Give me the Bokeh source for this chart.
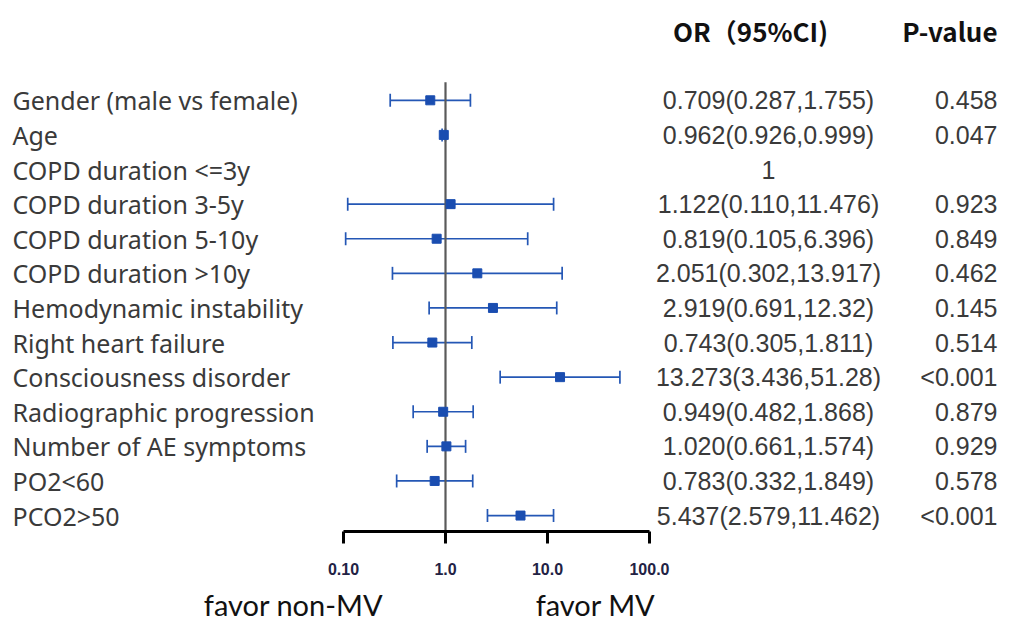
import math
from bokeh.plotting import figure
from bokeh.models import (Range1d, LogAxis, FixedTicker, ColumnDataSource, Whisker, TeeHead, LogScale)
from bokeh.core.properties import value
from bokeh.embed import file_html
from bokeh.resources import INLINE

labels = ["Gender (male vs female)", "Age", "COPD duration <=3y", "COPD duration 3-5y",
          "COPD duration 5-10y", "COPD duration >10y", "Hemodynamic instability",
          "Right heart failure", "Consciousness disorder", "Radiographic progression",
          "Number of AE symptoms", "PO2<60", "PCO2>50"]
or_vals = [0.709, 0.962, None, 1.122, 0.819, 2.051, 2.919, 0.743, 13.273, 0.949, 1.020, 0.783, 5.437]
ci_low = [0.287, 0.926, None, 0.110, 0.105, 0.302, 0.691, 0.305, 3.436, 0.482, 0.661, 0.332, 2.579]
ci_high = [1.755, 0.999, None, 11.476, 6.396, 13.917, 12.32, 1.811, 51.28, 1.868, 1.574, 1.849, 11.462]
or_text = ["0.709(0.287,1.755)", "0.962(0.926,0.999)", "1", "1.122(0.110,11.476)",
           "0.819(0.105,6.396)", "2.051(0.302,13.917)", "2.919(0.691,12.32)",
           "0.743(0.305,1.811)", "13.273(3.436,51.28)", "0.949(0.482,1.868)",
           "1.020(0.661,1.574)", "0.783(0.332,1.849)", "5.437(2.579,11.462)"]
p_text = ["0.458", "0.047", "", "0.923", "0.849", "0.462", "0.145", "0.514",
          "<0.001", "0.879", "0.929", "0.578", "<0.001"]
ticks = [0.1, 1, 10, 100]
tick_labels = ["0.10", "1.0", "10.0", "100.0"]
favor_labels = ["favor non-MV", "favor MV"]

# --- layout helpers (pixel geometry of the page) ---
W, H = 1000, 624
PX_DEC = 102.0          # pixels per decade
X01 = 343.0             # pixel of OR = 0.1
ROW0, ROWSTEP = 100.0, 34.67  # pixel of first row, row spacing
FRAME_BOTTOM = 532.0


def xpx(px):
    return 10 ** (-1 + (px - X01) / PX_DEC)


def ypx(py):
    return (py - ROW0) / ROWSTEP


p = figure(width=W, height=H, output_backend="svg", toolbar_location=None,
           x_axis_type=None, y_axis_type=None,
           x_range=Range1d(xpx(0), xpx(W)), y_range=Range1d(ypx(FRAME_BOTTOM), ypx(0)),
           min_border_left=0, min_border_right=0, min_border_top=0,
           min_border_bottom=int(H - FRAME_BOTTOM))
p.x_scale = LogScale()
p.outline_line_color = None
p.grid.visible = False
p.background_fill_color = "white"
p.border_fill_color = "white"

rows = list(range(len(labels)))
idx = [i for i in rows if or_vals[i] is not None]
src = ColumnDataSource(dict(y=idx, orv=[or_vals[i] for i in idx],
                            lo=[ci_low[i] for i in idx], hi=[ci_high[i] for i in idx]))

# reference line at OR = 1
p.segment(x0=[1], x1=[1], y0=[ypx(82)], y1=[ypx(FRAME_BOTTOM)], line_color="#5a5a5a", line_width=2.2)

blue = "#2457b5"
w = Whisker(source=src, base="y", lower="lo", upper="hi", dimension="width",
            line_color=blue, line_width=1.7,
            lower_head=TeeHead(size=13, line_color=blue, line_width=1.7),
            upper_head=TeeHead(size=13, line_color=blue, line_width=1.7))
p.add_layout(w)
p.scatter(x="orv", y="y", source=src, marker="square", size=9,
          fill_color="#1a4db0", line_color="#1a4db0")

txt_col = "#3a3a3a"
p.text(x=[xpx(12)] * len(rows), y=rows, text=labels, text_font=value("Noto Sans"),
       text_font_size="25px", text_color=txt_col, text_baseline="middle", text_align="left")
p.text(x=[xpx(768)] * len(rows), y=rows, text=or_text, text_font=value("Liberation Sans"),
       text_font_size="25px", text_color=txt_col, text_baseline="middle", text_align="center")
p.text(x=[xpx(997)] * len(rows), y=rows, text=p_text, text_font=value("Liberation Sans"),
       text_font_size="25px", text_color=txt_col, text_baseline="middle", text_align="right")

# headers
p.text(x=[xpx(750)], y=[ypx(30)], text=["OR（95%CI)"], text_font=value("Noto Sans CJK SC"),
       text_font_size="26px", text_font_style="bold", text_color="#111111",
       text_baseline="middle", text_align="center")
p.text(x=[xpx(997)], y=[ypx(30)], text=["P-value"], text_font=value("Noto Sans CJK SC"),
       text_font_size="26px", text_font_style="bold", text_color="#111111",
       text_baseline="middle", text_align="right")

# OR axis
ax = LogAxis(ticker=FixedTicker(ticks=ticks), bounds=(0.1, 100),
             major_label_overrides={t: l for t, l in zip(ticks, tick_labels)})
ax.axis_line_width = 3
ax.axis_line_color = "black"
ax.major_tick_line_width = 3
ax.major_tick_line_color = "black"
ax.major_tick_out = 12
ax.major_tick_in = 0
ax.minor_tick_line_color = None
ax.major_label_standoff = 19
ax.major_label_text_font = "Liberation Sans"
ax.major_label_text_font_style = "bold"
ax.major_label_text_font_size = "16px"
ax.major_label_text_color = "#222244"
p.add_layout(ax, "below")

# favor labels axis
fav_pos = [xpx(293), xpx(595)]
ax2 = LogAxis(ticker=FixedTicker(ticks=fav_pos),
              major_label_overrides={t: l for t, l in zip(fav_pos, favor_labels)})
ax2.axis_line_color = None
ax2.major_tick_line_color = None
ax2.minor_tick_line_color = None
ax2.major_tick_out = 0
ax2.major_tick_in = 0
ax2.major_label_standoff = 9
ax2.major_label_text_font = "Lato"
ax2.major_label_text_font_style = "normal"
ax2.major_label_text_font_size = "29px"
ax2.major_label_text_color = "#111111"
p.add_layout(ax2, "below")

open("out.html", "w").write(file_html(p, INLINE))
